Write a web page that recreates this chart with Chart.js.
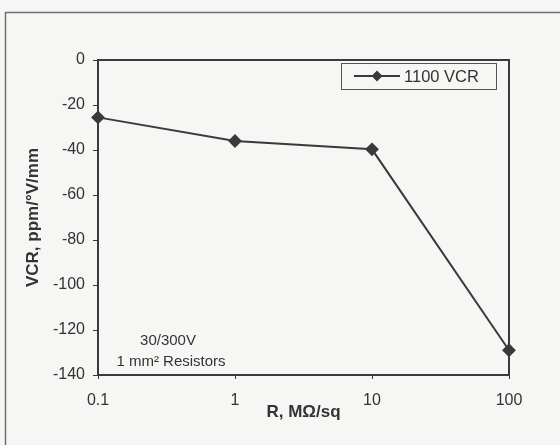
<!DOCTYPE html>
<html>
<head>
<meta charset="utf-8">
<script src="https://cdn.jsdelivr.net/npm/chart.js@4"></script>
<style>
  html, body { margin: 0; padding: 0; background: #f6f6f4; }
  #wrap { width: 560px; height: 445px; position: relative; }
</style>
</head>
<body>
<div id="wrap"><canvas id="c" width="560" height="445"></canvas></div>
<script>
// values
const resistance = [0.1, 1, 10, 100];      // R, MOhm/sq
const vcr1100 = [-25.5, -36, -39.7, -129]; // ppm/°V/mm
const xTicks = [0.1, 1, 10, 100];
const seriesName = '1100 VCR';
const noteLines = ['30/300V', '1 mm² Resistors'];

const ink = '#3a3a3a';
const font = "'Liberation Sans', Arial, sans-serif";

// frame round the plot, outer page border, legend box, notes
const decor = {
  id: 'decor',
  beforeDraw(chart) {
    const ctx = chart.ctx;
    ctx.save();
    ctx.strokeStyle = '#707070';
    ctx.lineWidth = 1.5;
    ctx.beginPath();
    ctx.moveTo(5.5, 445);
    ctx.lineTo(5.5, 12.5);
    ctx.lineTo(560, 12.5);
    ctx.stroke();
    ctx.restore();
  },
  afterDraw(chart) {
    const { ctx, chartArea: a } = chart;
    ctx.save();
    ctx.strokeStyle = ink;
    ctx.lineWidth = 2;
    ctx.strokeRect(a.left, a.top, a.right - a.left, a.bottom - a.top);

    // legend
    const bx = 341, by = a.top + 3, bw = 155, bh = 26;
    ctx.fillStyle = '#f6f6f4';
    ctx.fillRect(bx, by, bw, bh);
    ctx.strokeStyle = '#555';
    ctx.lineWidth = 1;
    ctx.strokeRect(bx + 0.5, by + 0.5, bw, bh);
    const ly = by + 13;
    ctx.strokeStyle = ink;
    ctx.lineWidth = 2;
    ctx.beginPath();
    ctx.moveTo(354, ly);
    ctx.lineTo(400, ly);
    ctx.stroke();
    ctx.fillStyle = ink;
    ctx.beginPath();
    ctx.moveTo(377, ly - 5.5);
    ctx.lineTo(382.5, ly);
    ctx.lineTo(377, ly + 5.5);
    ctx.lineTo(371.5, ly);
    ctx.closePath();
    ctx.fill();
    ctx.fillStyle = '#333';
    ctx.font = '16.5px ' + font;
    ctx.textAlign = 'left';
    ctx.textBaseline = 'middle';
    ctx.fillText(seriesName, 404, ly + 1);

    // notes, bottom-left
    ctx.font = '15px ' + font;
    ctx.textAlign = 'center';
    ctx.fillText(noteLines[0], 168, a.bottom - 34);
    ctx.fillText(noteLines[1], 171, a.bottom - 13);
    ctx.restore();
  }
};

new Chart(document.getElementById('c'), {
  type: 'line',
  data: {
    datasets: [{
      label: seriesName,
      data: resistance.map((r, i) => ({ x: r, y: vcr1100[i] })),
      borderColor: ink,
      backgroundColor: ink,
      borderWidth: 2,
      tension: 0,
      pointStyle: 'rectRot',
      pointRadius: 5.5,
      pointHoverRadius: 5.5,
      clip: false
    }]
  },
  plugins: [decor],
  options: {
    responsive: false,
    animation: false,
    layout: { padding: { top: 60, right: 51, left: 0, bottom: 0 } },
    plugins: { legend: { display: false }, tooltip: { enabled: false } },
    scales: {
      x: {
        type: 'logarithmic',
        min: 0.1,
        max: 100,
        afterBuildTicks: (s) => { s.ticks = xTicks.map((v) => ({ value: v })); },
        afterFit: (s) => { s.height = 70; },
        ticks: {
          color: '#333',
          font: { family: font, size: 16 },
          padding: 12,
          maxRotation: 0,
          autoSkip: false,
          callback: (v) => String(v)
        },
        grid: { drawOnChartArea: false, tickLength: 4, color: ink, lineWidth: 1 },
        border: { color: ink, width: 2 },
        title: {
          display: true,
          text: 'R, MΩ/sq',
          color: '#333',
          font: { family: font, size: 17, weight: 'bold' },
          padding: { top: 0, bottom: 22 }
        }
      },
      y: {
        min: -140,
        max: 0,
        afterFit: (s) => { s.width = 98; },
        ticks: {
          stepSize: 20,
          color: '#333',
          font: { family: font, size: 16 },
          padding: 8
        },
        grid: { drawOnChartArea: false, tickLength: 5, color: ink, lineWidth: 1 },
        border: { color: ink, width: 2 },
        title: {
          display: true,
          text: 'VCR, ppm/°V/mm',
          color: '#333',
          font: { family: font, size: 17, weight: 'bold' },
          padding: { top: 23, bottom: 0 }
        }
      }
    }
  }
});
</script>
</body>
</html>
